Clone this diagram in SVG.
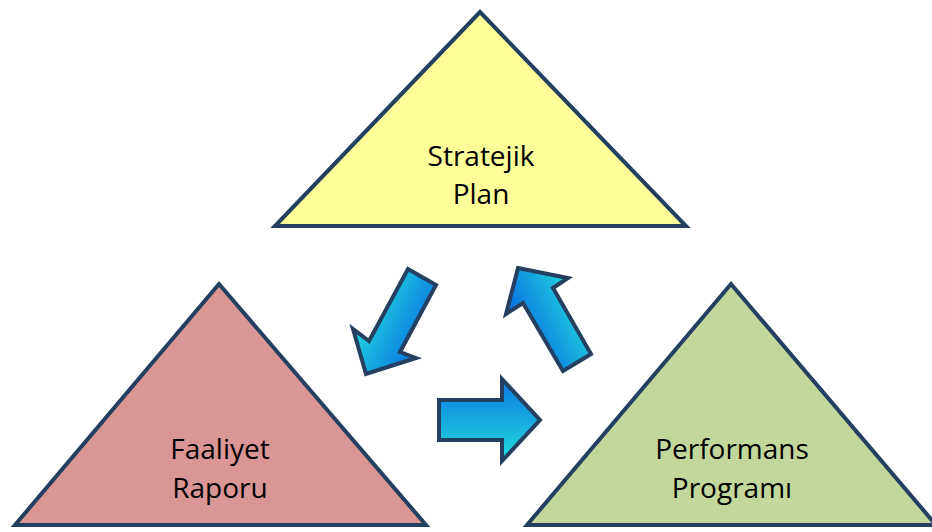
<svg xmlns="http://www.w3.org/2000/svg" width="932" height="532" viewBox="0 0 932 532">
  <style>
    .tri { stroke: #243F60; stroke-width: 4; stroke-linejoin: miter; }
    .arr { stroke: #243F60; stroke-width: 4; stroke-linejoin: miter; }
    .lbl { font-family: "Open Sans", "Noto Sans", sans-serif; font-size: 28px; fill: #000; text-anchor: middle; }
  </style>
  <defs>
    <linearGradient id="g1" gradientUnits="userSpaceOnUse" x1="360" y1="310" x2="420" y2="340">
      <stop offset="0" stop-color="#22DCDC"/>
      <stop offset="1" stop-color="#0A78E2"/>
    </linearGradient>
    <linearGradient id="g2" gradientUnits="userSpaceOnUse" x1="520" y1="320" x2="580" y2="290">
      <stop offset="0" stop-color="#0A78E2"/>
      <stop offset="1" stop-color="#22DCDC"/>
    </linearGradient>
    <linearGradient id="g3" gradientUnits="userSpaceOnUse" x1="0" y1="380" x2="0" y2="460">
      <stop offset="0" stop-color="#0A78E2"/>
      <stop offset="1" stop-color="#22DCDC"/>
    </linearGradient>
  </defs>
  <rect width="932" height="532" fill="#FFFFFF"/>

  <g id="stratejik-plan">
    <polygon class="tri" points="480,12 275,226 686,226" fill="#FFFF99"/>
    <text class="lbl" x="481" y="166">Stratejik</text>
    <text class="lbl" x="481" y="204">Plan</text>
  </g>

  <g id="faaliyet-raporu">
    <polygon class="tri" points="219,284 15,525 426,525" fill="#D99694"/>
    <text class="lbl" x="220" y="459">Faaliyet</text>
    <text class="lbl" x="220" y="498">Raporu</text>
  </g>

  <g id="performans-programi">
    <polygon class="tri" points="731,284 527,525 936,525" fill="#C3D69B"/>
    <text class="lbl" x="732" y="459">Performans</text>
    <text class="lbl" x="732" y="498">Programı</text>
  </g>

  <g id="connectors">
    <polygon class="arr" fill="url(#g1)" points="408,269 436,285 400,352 416,358 366,374 353,329 369,341"/>
    <polygon class="arr" fill="url(#g2)" points="518,268 568,278 553,288 591,354 563,371 523,303 506,314"/>
    <polygon class="arr" fill="url(#g3)" points="439,400 502,400 502,379 540,420 502,461 502,440 439,440"/>
  </g>
</svg>
